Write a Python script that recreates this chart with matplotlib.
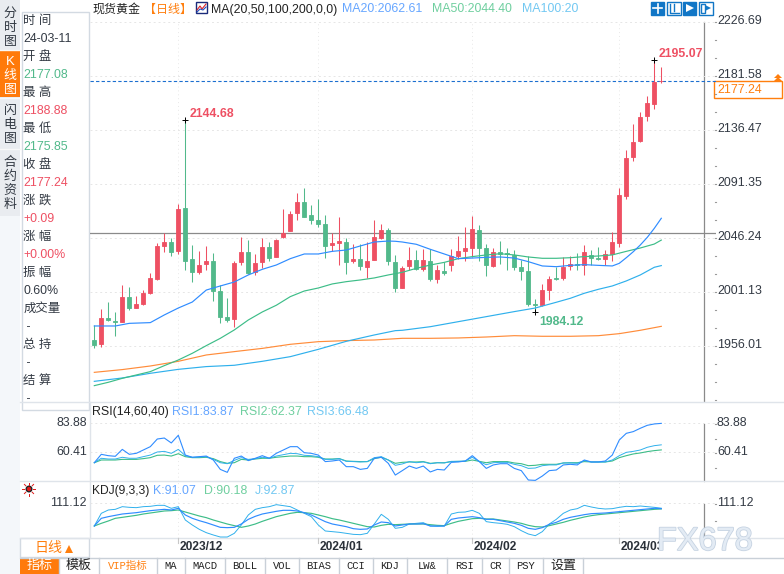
import numpy as np
import matplotlib

matplotlib.use("Agg")
import matplotlib.pyplot as plt  # noqa: E402
import matplotlib.patheffects as pe  # noqa: E402
from matplotlib.patches import Rectangle, Polygon, Circle  # noqa: E402

FONT = ["Liberation Sans", "Noto Sans CJK SC"]
RED = "#ee5063"
GREEN = "#52b98b"
C_MA20 = "#2f8cff"
C_MA50 = "#3dbd88"
C_MA100 = "#2fb0ec"
C_MA200 = "#ff8c3a"
ORANGE = "#ff7f0e"
TEXT = "#333a44"

opens = [
    1961.0, 1957.9, 1979.4, 1976.9, 1976.0, 1996.9, 1987.7, 1991.0, 2000.2, 2011.9,
    2039.5, 2042.8, 2035.3, 2071.2, 2028.6, 2017.8, 2024.4, 2026.9, 2001.9, 1980.2,
    1978.5, 2026.1, 2034.5, 2017.8, 2026.1, 2038.6, 2030.3, 2047.0, 2052.0, 2067.0,
    2076.2, 2065.3, 2061.2, 2057.8, 2040.3, 2042.0, 2042.8, 2026.9, 2028.6, 2021.9,
    2027.8, 2046.2, 2052.8, 2026.1, 2004.4, 2022.8, 2027.8, 2020.3, 2026.9, 2011.9,
    2018.6, 2023.6, 2031.1, 2035.3, 2037.8, 2052.8, 2037.8, 2022.8, 2034.5, 2033.6,
    2032.0, 2021.9, 2018.6, 1991.0, 1990.2, 2002.7, 2012.8, 2012.8, 2022.8, 2024.4,
    2023.6, 2032.0, 2029.4, 2028.6, 2032.8, 2042.0, 2081.2, 2113.8, 2127.1, 2148.0,
    2158.0, 2177.08,
]
highs = [
    1973.5, 1986.6, 1992.7, 1984.4, 2006.9, 2005.2, 1997.7, 2002.7, 2016.9, 2042.0,
    2050.6, 2046.2, 2074.5, 2144.68, 2040.3, 2035.3, 2039.5, 2033.6, 2006.9, 1996.0,
    2026.9, 2047.0, 2044.5, 2032.8, 2046.2, 2042.8, 2045.3, 2070.3, 2068.7, 2083.7,
    2087.9, 2073.7, 2078.7, 2065.3, 2050.3, 2063.7, 2046.2, 2041.1, 2041.1, 2042.8,
    2061.2, 2057.8, 2054.5, 2032.0, 2022.8, 2038.6, 2036.1, 2037.0, 2037.0, 2023.6,
    2026.1, 2037.0, 2047.8, 2055.3, 2064.5, 2057.0, 2041.1, 2037.8, 2043.6, 2037.8,
    2036.1, 2027.8, 2031.1, 1995.2, 2007.8, 2014.4, 2021.9, 2030.3, 2031.1, 2033.6,
    2040.3, 2036.1, 2038.6, 2036.1, 2051.1, 2087.9, 2119.6, 2141.3, 2151.3, 2164.7,
    2195.07, 2188.88,
]
lows = [
    1954.6, 1955.4, 1977.1, 1964.3, 1975.8, 1986.0, 1987.7, 1990.2, 1999.4, 2011.1,
    2034.5, 2031.1, 2032.8, 2019.4, 2009.4, 2016.1, 2019.4, 1993.6, 1975.2, 1976.0,
    1971.9, 2023.6, 2016.1, 2015.3, 2021.1, 2026.9, 2030.3, 2046.2, 2052.0, 2061.2,
    2063.7, 2057.8, 2055.3, 2029.4, 2035.3, 2023.6, 2016.1, 2025.3, 2019.4, 2012.8,
    2027.8, 2045.3, 2023.6, 2001.1, 2004.4, 2019.4, 2019.4, 2018.6, 2010.3, 2008.6,
    2015.3, 2018.6, 2028.6, 2026.9, 2030.3, 2026.9, 2014.4, 2021.9, 2024.4, 2019.4,
    2019.4, 2011.1, 1989.4, 1984.12, 1989.4, 1994.4, 2011.1, 2011.1, 2019.4, 2019.4,
    2015.3, 2023.6, 2027.8, 2023.6, 2026.9, 2038.6, 2078.7, 2110.4, 2126.3, 2143.8,
    2153.8, 2175.85,
]
closes = [
    1956.8, 1979.4, 1977.7, 1976.0, 1996.9, 1987.7, 1991.0, 2000.2, 2012.8, 2039.5,
    2042.8, 2034.5, 2070.3, 2026.9, 2017.8, 2023.6, 2026.9, 2001.9, 1980.2, 1977.7,
    2025.3, 2034.5, 2016.9, 2025.3, 2038.6, 2029.4, 2044.5, 2050.3, 2066.2, 2076.2,
    2063.7, 2061.2, 2057.8, 2039.5, 2042.0, 2043.6, 2026.1, 2028.6, 2022.8, 2026.9,
    2047.0, 2052.8, 2026.9, 2004.4, 2021.1, 2027.8, 2020.3, 2027.8, 2011.9, 2019.4,
    2016.9, 2031.1, 2035.3, 2037.8, 2053.7, 2037.8, 2023.6, 2034.5, 2032.8, 2032.8,
    2021.9, 2018.6, 1991.0, 1990.2, 2002.7, 2011.9, 2011.9, 2021.9, 2024.4, 2023.6,
    2034.5, 2029.4, 2028.6, 2032.8, 2042.8, 2082.0, 2112.9, 2126.3, 2147.2, 2158.8,
    2176.4, 2177.24,
]

ma20_x = [0, 3, 5, 8, 10, 12, 14, 16, 18, 20, 22, 24, 26, 28, 30, 32, 34, 36, 38, 40, 42, 43, 44,
          46, 48, 50, 52, 54, 56, 58, 60, 62, 64, 66, 68, 70, 72, 74, 75, 76, 77, 78, 79, 80, 81]
ma20 = [1972.7, 1972.7, 1974.9, 1975.5, 1981.9, 1987.7, 1992.7, 2002.7, 2006.1, 2009.4, 2015.3,
        2020.0, 2023.6, 2028.9, 2032.8, 2032.8, 2035.0, 2036.1, 2039.5, 2042.8, 2043.6, 2043.4,
        2042.8, 2040.9, 2036.7, 2032.8, 2028.9, 2029.4, 2030.0, 2030.3, 2029.4, 2026.4, 2022.8,
        2022.2, 2023.3, 2023.9, 2023.3, 2022.8, 2025.0, 2029.7, 2034.7, 2040.3, 2046.7, 2054.2,
        2062.61]
ma50_x = [0, 2, 4, 6, 8, 10, 12, 14, 16, 18, 20, 22, 24, 26, 28, 30, 32, 34, 36, 38, 40, 42, 44,
          46, 48, 50, 52, 54, 56, 58, 60, 62, 64, 66, 68, 70, 72, 74, 76, 78, 80, 81]
ma50 = [1922.9, 1925.7, 1929.0, 1931.8, 1934.6, 1939.6, 1944.3, 1949.9, 1956.3, 1962.4, 1969.4,
        1977.7, 1984.4, 1990.0, 1997.2, 2001.9, 2004.4, 2007.8, 2009.7, 2011.1, 2012.8, 2015.3,
        2017.5, 2020.8, 2023.6, 2025.8, 2028.9, 2030.6, 2032.0, 2033.0, 2032.0, 2030.3, 2029.2,
        2029.2, 2029.7, 2030.6, 2031.1, 2032.0, 2035.0, 2037.8, 2041.1, 2044.40]
ma100_x = [0, 4, 8, 12, 16, 20, 24, 28, 32, 36, 40, 43, 44, 48, 52, 56, 60, 63, 66, 68, 70, 72,
           74, 76, 78, 80, 81]
ma100 = [1926.5, 1929.3, 1933.2, 1936.5, 1938.8, 1939.9, 1943.2, 1947.1, 1953.2, 1959.9, 1965.2,
         1968.8, 1969.1, 1972.1, 1976.3, 1980.5, 1984.7, 1987.7, 1992.5, 1995.8, 2000.0, 2003.3,
         2006.1, 2010.3, 2015.3, 2021.7, 2023.1]
ma200_x = [0, 4, 8, 12, 16, 20, 24, 28, 32, 36, 40, 44, 48, 52, 56, 60, 64, 68, 72, 75, 78, 81]
ma200 = [1934.0, 1936.3, 1939.3, 1943.2, 1948.5, 1951.3, 1954.0, 1957.4, 1959.6, 1960.5, 1961.0,
         1962.4, 1962.4, 1962.7, 1963.5, 1964.6, 1964.1, 1964.1, 1964.6, 1966.3, 1969.1, 1972.4]

rsi1 = [52.0, 58.8, 57.7, 57.2, 62.8, 58.8, 59.6, 62.3, 65.0, 71.2, 72.0, 68.0, 74.2, 58.2, 56.4,
        56.9, 57.4, 54.2, 46.6, 44.2, 55.6, 57.4, 53.7, 55.6, 57.7, 55.6, 59.6, 62.3, 65.0, 65.0,
        60.1, 59.6, 58.2, 52.9, 53.4, 54.2, 48.8, 48.8, 46.6, 47.4, 55.6, 56.4, 51.5, 42.0, 45.6,
        49.3, 47.4, 49.3, 44.5, 46.6, 46.1, 52.3, 52.6, 53.4, 57.7, 52.9, 47.4, 50.2, 51.2, 51.2,
        47.4, 45.6, 38.0, 37.7, 41.2, 45.6, 46.1, 50.2, 50.7, 50.2, 54.2, 52.6, 52.6, 53.4, 58.2,
        70.4, 75.8, 77.2, 79.9, 82.3, 83.4, 83.87]
rsi2 = [52.0, 54.2, 54.2, 54.2, 54.7, 54.7, 54.7, 55.3, 56.1, 58.0, 58.2, 57.4, 59.3, 56.9, 56.1,
        56.1, 56.4, 55.3, 52.9, 51.5, 52.0, 54.7, 54.2, 55.0, 55.6, 55.6, 56.4, 56.9, 57.4, 57.4,
        56.9, 56.9, 56.4, 55.0, 55.0, 55.3, 53.4, 53.1, 52.9, 52.9, 55.3, 56.4, 54.2, 51.5, 52.3,
        52.6, 52.6, 52.9, 51.5, 52.0, 52.0, 52.9, 53.1, 53.1, 54.2, 53.1, 52.0, 52.9, 52.9, 52.9,
        51.8, 51.2, 49.6, 49.9, 50.7, 50.7, 50.7, 51.8, 52.0, 52.0, 52.9, 52.6, 52.6, 52.6, 53.4,
        56.1, 57.7, 59.1, 59.9, 61.0, 61.8, 62.37]
rsi3 = [52.0, 55.6, 55.0, 55.0, 56.4, 55.6, 55.6, 56.9, 58.2, 60.7, 61.2, 59.6, 62.8, 57.7, 56.4,
        56.6, 56.9, 54.7, 52.0, 51.2, 53.9, 56.1, 54.7, 55.3, 56.4, 55.6, 57.4, 58.5, 59.6, 59.3,
        58.0, 57.7, 56.9, 54.7, 54.7, 55.3, 53.1, 52.9, 52.6, 52.9, 56.1, 56.9, 54.2, 49.9, 51.0,
        52.9, 52.0, 52.6, 51.2, 52.0, 51.8, 53.1, 53.1, 53.4, 56.4, 52.9, 50.4, 52.0, 52.3, 52.3,
        50.7, 49.6, 47.4, 47.7, 49.6, 50.2, 50.2, 51.8, 51.8, 51.5, 53.7, 52.6, 52.6, 52.6, 54.2,
        57.7, 60.4, 61.2, 62.3, 64.5, 65.8, 66.48]

kdj_k = [26.1, 54.9, 61.1, 66.1, 71.1, 73.6, 76.1, 79.9, 83.6, 86.1, 88.6, 86.1, 92.4, 67.4, 54.9,
         46.1, 38.6, 29.9, 21.1, 19.9, 21.1, 33.6, 51.1, 62.4, 71.1, 76.1, 81.1, 84.9, 84.9, 82.4,
         76.1, 67.4, 54.9, 42.4, 33.6, 28.6, 23.6, 16.1, 13.6, 14.9, 29.9, 41.1, 38.6, 26.1, 29.9,
         33.6, 33.6, 34.9, 26.1, 26.1, 26.1, 51.1, 56.1, 58.6, 61.1, 57.4, 51.1, 51.1, 46.1, 41.1,
         36.1, 28.6, 17.4, 13.6, 19.9, 32.4, 39.9, 51.1, 58.6, 63.6, 68.6, 72.4, 73.6, 74.9, 77.4,
         79.9, 82.4, 84.9, 87.4, 89.9, 92.4, 91.07]
kdj_d = [26.1, 36.1, 44.9, 54.9, 58.6, 62.4, 66.1, 71.1, 74.9, 78.6, 82.4, 83.6, 86.1, 78.6, 71.1,
         63.6, 57.4, 48.6, 41.1, 33.6, 27.4, 21.1, 26.1, 33.6, 43.6, 52.4, 61.1, 67.4, 73.6, 77.4,
         76.1, 73.6, 67.4, 61.1, 53.6, 48.6, 42.4, 36.1, 29.9, 23.6, 22.4, 28.6, 32.4, 31.1, 32.4,
         33.6, 33.6, 33.6, 31.1, 28.6, 27.4, 36.1, 43.6, 48.6, 53.6, 54.9, 52.4, 52.4, 48.6, 44.9,
         41.1, 36.1, 28.6, 23.6, 22.4, 27.4, 33.6, 39.9, 47.4, 53.6, 59.9, 64.9, 68.6, 71.1, 73.6,
         76.1, 78.6, 81.1, 83.6, 86.1, 88.6, 90.18]
kdj_j = [26.1, 73.6, 86.1, 88.6, 98.6, 96.1, 94.9, 98.6, 99.9, 103.6, 103.6, 92.4, 98.6, 48.6, 29.9,
         13.6, 1.1, -7.6, -15.2, -15.2, -1.4, 29.9, 67.4, 88.6, 94.9, 98.6, 106.1, 102.4, 98.6,
         86.1, 73.6, 61.1, 29.9, 7.4, 4.9, 2.4, -1.4, -5.2, -6.4, -1.4, 33.6, 69.9, 51.1, 17.4,
         21.1, 33.6, 36.1, 38.6, 26.1, 24.9, 26.1, 71.1, 77.4, 78.6, 84.9, 73.6, 42.4, 38.6, 36.1,
         32.4, 23.6, 8.6, -3.9, -10.2, 4.9, 33.6, 51.1, 73.6, 86.1, 91.1, 103.6, 97.4, 92.4, 89.9,
         91.1, 96.1, 99.9, 98.6, 101.1, 98.6, 96.1, 92.87]

price_ticks = [2226.69, 2181.58, 2136.47, 2091.35, 2046.24, 2001.13, 1956.01]
rsi_ticks = [83.88, 60.41]
kdj_ticks = [111.12]
month_pos = [12, 32, 54, 75]
month_labels = ["2023/12", "2024/01", "2024/02", "2024/03"]
info_rows = [
    ("时 间", TEXT), ("24-03-11", TEXT), ("开 盘", TEXT), ("2177.08", GREEN),
    ("最 高", TEXT), ("2188.88", RED), ("最 低", TEXT), ("2175.85", GREEN),
    ("收 盘", TEXT), ("2177.24", RED), ("涨 跌", TEXT), ("+0.09", RED),
    ("涨 幅", TEXT), ("+0.00%", RED), ("振 幅", TEXT), ("0.60%", TEXT),
    ("成交量", TEXT), (" -", TEXT), ("总 持", TEXT), (" -", TEXT),
    ("结 算", TEXT), (" -", TEXT),
]
tab_labels = ["指标", "模板", "VIP指标", "MA", "MACD", "BOLL", "VOL", "BIAS", "CCI", "KDJ",
              "LW&", "RSI", "CR", "PSY", "设置"]
tab_edges = [20, 59, 99, 157, 185, 225, 265, 299, 339, 373, 407, 447, 482, 509, 543, 583]

W, H = 784, 574
fig = plt.figure(figsize=(W / 100, H / 100), dpi=100)
fig.patch.set_facecolor("white")

# pixel axes for the window chrome and all the labels
bg = fig.add_axes([0, 0, 1, 1], zorder=0)
bg.set_xlim(0, W)
bg.set_ylim(H, 0)
bg.axis("off")


def label(x, y, s, color=TEXT, size=12, **kw):
    kw.setdefault("va", "center")
    kw.setdefault("family", FONT)
    return bg.text(x, y, s, color=color, fontsize=size * 0.72, **kw)


def px_axes(y0, y1, lim):
    # x maps candle i to pixel 94.3 + 7i, y limits come from the panel scale
    ax = fig.add_axes([90 / W, 1 - y1 / H, (716 - 90) / W, (y1 - y0) / H], zorder=1)
    ax.set_xlim((90 - 94.3) / 7, (716 - 94.3) / 7)
    ax.set_ylim(*lim)
    ax.patch.set_alpha(0)
    ax.axis("off")
    for m in month_pos:
        ax.axvline(m, color="#e8e8e8", lw=0.7, ls=(0, (1, 3)), zorder=1)
    return ax


xs = np.arange(len(closes))
PX_PER_USD = 1.198
ax = px_axes(21, 402, (2226.69 - (402 - 21.7) / PX_PER_USD, 2226.69 - (21 - 21.7) / PX_PER_USD))
for t in price_ticks:
    ax.axhline(t, color="#e6e6e6", lw=0.7, ls=(0, (2, 3)), zorder=1)
ax.axhline(2050.6, color="#8a8a8a", lw=0.9, zorder=2)
colors = [RED if c >= o else GREEN for o, c in zip(opens, closes)]
ax.vlines(xs, lows, highs, colors=colors, lw=0.75, zorder=3)
ax.bar(xs, np.array(closes) - np.array(opens), bottom=opens, width=0.62, color=colors,
       edgecolor=colors, linewidth=0.6, zorder=4)
ax.plot(ma200_x, ma200, color=C_MA200, lw=0.85, zorder=5)
ax.plot(ma100_x, ma100, color=C_MA100, lw=0.85, zorder=5)
ax.plot(ma50_x, ma50, color=C_MA50, lw=0.85, zorder=5)
ax.plot(ma20_x, ma20, color=C_MA20, lw=0.85, zorder=5)
ax.axhline(closes[-1], color="#1c6fd0", lw=0.8, ls=(0, (3, 2)), zorder=2)

# high / low markers
ax.plot([13, 80, 63], [highs[13], highs[80], lows[63]], ls="", marker="+", ms=4.5, mew=0.7,
        color="black", zorder=6)
ax.annotate(f"{highs[13]:.2f}", (13, highs[13]), xytext=(3, 2), textcoords="offset points",
            color=RED, fontsize=8.8, fontweight="bold", family=FONT, annotation_clip=False)
ax.annotate(f"{highs[80]:.2f}", (80, highs[80]), xytext=(3, 2), textcoords="offset points",
            color=RED, fontsize=8.8, fontweight="bold", family=FONT, annotation_clip=False)
ax.annotate(f"{lows[63]:.2f}", (63, lows[63]), xytext=(3, -9), textcoords="offset points",
            color=GREEN, fontsize=8.8, fontweight="bold", family=FONT, annotation_clip=False)

rsi_ax = px_axes(402, 481, (102.8 - 0.27 * 243, 102.8 - 0.27 * 6))
for t in rsi_ticks:
    rsi_ax.axhline(t, color="#e6e6e6", lw=0.7, ls=(0, (2, 3)), zorder=1)
rsi_ax.plot(xs, rsi2, color=C_MA50, lw=0.8, zorder=3)
rsi_ax.plot(xs, rsi3, color=C_MA100, lw=0.7, zorder=4)
rsi_ax.plot(xs, rsi1, color=C_MA20, lw=0.8, zorder=5)

kdj_ax = px_axes(482, 538, (498.6 - 1.25 * 414, 498.6 - 1.25 * 246))
for t in kdj_ticks:
    kdj_ax.axhline(t, color="#e6e6e6", lw=0.7, ls=(0, (2, 3)), zorder=1)
kdj_ax.plot(xs, kdj_j, color=C_MA100, lw=0.7, zorder=3)
kdj_ax.plot(xs, kdj_d, color=C_MA50, lw=0.85, zorder=4)
kdj_ax.plot(xs, kdj_k, color=C_MA20, lw=0.85, zorder=5)

# left side tabs
bg.add_patch(Rectangle((0, 0), 20, H, fc="#f4f7fa", ec="none"))
bg.add_patch(Rectangle((0, 0), 20, 216, fc="#e9ecf0", ec="none"))
bg.add_patch(Rectangle((0, 51), 20, 46, fc="#ff7a0a", ec="none"))
for y in (50, 98, 149):
    bg.plot([0, 20], [y, y], color="#f8f8f8", lw=1)
for x, y, s, c in [(10, 14, "分", TEXT), (10, 28, "时", TEXT), (10, 42, "图", TEXT),
                   (10, 62, "K", "white"), (10, 76, "线", "white"), (10, 90, "图", "white"),
                   (10, 111, "闪", TEXT), (10, 125, "电", TEXT), (10, 139, "图", TEXT),
                   (10, 163, "合", TEXT), (10, 177, "约", TEXT), (10, 191, "资", TEXT),
                   (10, 205, "料", TEXT)]:
    label(x, y, s, color=c, size=13, ha="center")

# info box
bg.add_patch(Rectangle((22, 11.5), 67, 398, fc="white", ec="#d3dae2", lw=1))
for n, (s, c) in enumerate(info_rows):
    label(23.5, 21 + n * 18.0, s, color=c, size=12.4)

# title rows
label(92, 9.5, "现货黄金", color="#222222", size=12)
label(144, 9.5, "【日线】", color=ORANGE, size=12)
bg.add_patch(Rectangle((196, 2), 11, 11, fc="white", ec="#1a2a7a", lw=1))
bg.plot([197, 200, 202, 206], [10, 6, 9, 4], color="#d8222a", lw=0.8)
bg.plot([197, 200, 203, 206], [12, 9, 10, 7], color="#2050c0", lw=0.8)
label(211, 9.5, "MA(20,50,100,200,0,0)", color="#222222", size=12.4)
label(342, 9.5, "MA20:2062.61", color="#66a6ff", size=12.4)
label(432, 9.5, "MA50:2044.40", color="#6fcf9f", size=12.4)
label(522, 9.5, "MA100:20", color="#72c8f2", size=12.4)
label(92, 412, "RSI(14,60,40)", color="#222222", size=12.4)
label(172, 412, "RSI1:83.87", color="#66a6ff", size=12.4)
label(240, 412, "RSI2:62.37", color="#6fcf9f", size=12.4)
label(307, 412, "RSI3:66.48", color="#72c8f2", size=12.4)
label(92, 491, "KDJ(9,3,3)", color="#222222", size=12)
label(153, 491, "K:91.07", color="#66a6ff", size=12.4)
label(204, 491, "D:90.18", color="#6fcf9f", size=12.4)
label(255, 491, "J:92.87", color="#72c8f2", size=12.4)

# tool buttons
for x0, filled in [(651, True), (667.5, False), (683, True), (699.5, False)]:
    bg.add_patch(Rectangle((x0, 1.5), 13.5, 13.5, fc="#1176c6" if filled else "white",
                           ec="#1176c6", lw=1))
bg.plot([657.7, 657.7], [3.5, 13], color="white", lw=1.2)
bg.plot([653, 662.5], [8.2, 8.2], color="white", lw=1.2)
bg.plot([670, 670, 679], [3.5, 12.5, 12.5], color="#1176c6", lw=1)
bg.plot([674, 674], [4, 11], color="#1176c6", lw=1)
bg.add_patch(Polygon([[686, 4], [686, 12], [694, 8]], fc="white", ec="none"))
bg.add_patch(Rectangle((701, 3.5), 4, 9.5, fc="none", ec="#1176c6", lw=1))
bg.add_patch(Polygon([[705, 5], [705, 11], [711, 8]], fc="#1176c6", ec="none"))

# price scale
bg.plot([704.3, 704.3], [22, 401], color="#8a8a8a", lw=0.9)
bg.plot([704.3, 704.3], [424, 481], color="#8a8a8a", lw=0.9)
bg.plot([704.3, 704.3], [504, 538], color="#8a8a8a", lw=0.9)
for y in np.arange(21.7, 400, 18.0):
    bg.plot([715.5, 716.5], [y, y], color="#9a9a9a", lw=0.8)
for y in np.arange(424, 480, 14.6):
    bg.plot([715.5, 716.5], [y, y], color="#9a9a9a", lw=0.8)
for y in np.arange(504, 530, 17):
    bg.plot([715.5, 716.5], [y, y], color="#9a9a9a", lw=0.8)
for n, t in enumerate(price_ticks):
    label(717, 21 + 54 * n, f"{t:.2f}", size=12.4)
label(717, 423, f"{rsi_ticks[0]:.2f}", size=12.4)
label(717, 452, f"{rsi_ticks[1]:.2f}", size=12.4)
label(717, 503, f"{kdj_ticks[0]:.2f}", size=12.4)
label(87, 423, f"{rsi_ticks[0]:.2f}", size=12.4, ha="right")
label(87, 452, f"{rsi_ticks[1]:.2f}", size=12.4, ha="right")
label(87, 503, f"{kdj_ticks[0]:.2f}", size=12.4, ha="right")
bg.add_patch(Rectangle((714.5, 81), 68, 17, fc="white", ec=ORANGE, lw=1))
label(717, 90, f"{closes[-1]:.2f}", color=ORANGE, size=12.4)
bg.add_patch(Polygon([[774, 78], [782, 78], [778, 74]], fc=ORANGE, ec="none"))
bg.add_patch(Polygon([[774, 81], [782, 81], [778, 77]], fc=ORANGE, ec="none"))

# panel separators
for y in (402, 481, 538):
    bg.plot([20, W], [y, y], color="#dfe4ea", lw=1)
bg.plot([90, 90], [402, 538], color="#dfe4ea", lw=1)

# signal icon
bg.add_patch(Circle((29, 489), 2.8, fc="#e01818", ec="#222222", lw=1))
for a in np.deg2rad(np.arange(0, 360, 45)):
    bg.plot([29 + 4.5 * np.cos(a), 29 + 6.5 * np.cos(a)], [489 + 4.5 * np.sin(a), 489 + 6.5 * np.sin(a)],
            color="#e01818", lw=0.7)

# month axis
for m, s in zip(month_pos, month_labels):
    x = 94.3 + 7 * m
    bg.plot([x, x], [538, 543], color="#c8c8c8", lw=0.8)
    label(x + 1.5, 547, s, color="#2a3038", size=12, fontweight="bold")

# period and indicator tabs
bg.add_patch(Rectangle((20, 538), 69.5, 19, fc="white", ec="#d3dae2", lw=1))
label(35, 548, "日线", color=ORANGE, size=14)
bg.add_patch(Polygon([[65, 553], [73, 553], [69, 545]], fc=ORANGE, ec="none"))
bg.plot([20, W], [557.5, 557.5], color="#c9d0d8", lw=1)
for n, s in enumerate(tab_labels):
    x0, x1 = tab_edges[n], tab_edges[n + 1]
    if n == 0:
        bg.add_patch(Rectangle((x0, 558), x1 - x0, 16, fc="#ff7a0a", ec="none"))
    bg.plot([x1, x1], [558, 574], color="#c9d0d8", lw=1)
    c = "white" if n == 0 else (ORANGE if n == 2 else "#222222")
    fam = FONT if n in (0, 1, 14) else ["Liberation Mono", "Noto Sans CJK SC"]
    label((x0 + x1) / 2, 566, s, color=c, size=13 if n in (0, 1, 14) else 10.5, ha="center",
          family=fam)

# watermark, one text with a soft shadow
wm = fig.text(657 / W, 1 - 550 / H, "FX678", color="#e3ebf4", fontsize=23.4,
              family="Liberation Sans", zorder=5)
wm.set_path_effects([pe.withStroke(linewidth=1.2, foreground="#c6d3e2")])

fig.savefig("out.png", dpi=100)
plt.close(fig)
